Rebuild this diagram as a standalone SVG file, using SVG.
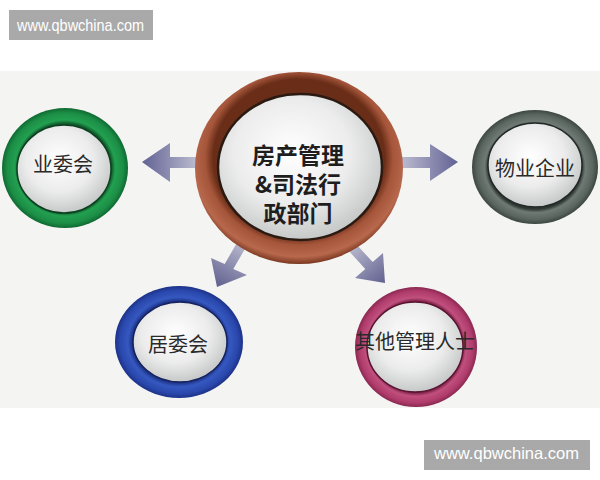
<svg xmlns="http://www.w3.org/2000/svg" width="600" height="480" viewBox="0 0 600 480">
<style>
.wm{fill:#a9a9a9}
.wmt{fill:#ffffff;font-family:"Liberation Sans",Arial,sans-serif}
.inner{fill:url(#gInner)}
.lbl{font-family:"Noto Sans CJK SC","Noto Sans",sans-serif;font-size:20px;fill:#2a2a2a;text-anchor:middle;dominant-baseline:central}
.ctr{font-family:"Noto Sans CJK SC","Noto Sans",sans-serif;font-size:23px;font-weight:bold;fill:#1e1e1e;text-anchor:middle}
</style>
<defs>
<radialGradient id="gInner" cx="0.45" cy="0.4" r="0.65">
<stop offset="0" stop-color="#ffffff"/><stop offset="0.55" stop-color="#ececec"/><stop offset="1" stop-color="#bfc2c2"/>
</radialGradient>
<radialGradient id="gBrown" cx="0.5" cy="0.45" r="0.55">
<stop offset="0.75" stop-color="#6a2e18"/><stop offset="0.82" stop-color="#a4553a"/><stop offset="0.93" stop-color="#b8684c"/><stop offset="1" stop-color="#7a3820"/>
</radialGradient>
<radialGradient id="gGreen" cx="0.5" cy="0.5" r="0.5">
<stop offset="0.74" stop-color="#0f5a2a"/><stop offset="0.8" stop-color="#22a050"/><stop offset="0.92" stop-color="#1c8e46"/><stop offset="1" stop-color="#0f6a32"/>
</radialGradient>
<radialGradient id="gGray" cx="0.5" cy="0.5" r="0.5">
<stop offset="0.74" stop-color="#2e3632"/><stop offset="0.8" stop-color="#6f7a74"/><stop offset="0.92" stop-color="#5a6560"/><stop offset="1" stop-color="#3c4642"/>
</radialGradient>
<radialGradient id="gBlue" cx="0.5" cy="0.5" r="0.5">
<stop offset="0.72" stop-color="#1a2e80"/><stop offset="0.8" stop-color="#3558c0"/><stop offset="0.92" stop-color="#2a48ad"/><stop offset="1" stop-color="#1c3288"/>
</radialGradient>
<radialGradient id="gPink" cx="0.5" cy="0.5" r="0.5">
<stop offset="0.76" stop-color="#7a1e44"/><stop offset="0.82" stop-color="#c0507e"/><stop offset="0.93" stop-color="#b03c6c"/><stop offset="1" stop-color="#8a2850"/>
</radialGradient>
<linearGradient id="aL" x1="142" y1="0" x2="200" y2="0" gradientUnits="userSpaceOnUse">
<stop offset="0" stop-color="#626294"/><stop offset="1" stop-color="#c0c0d4"/>
</linearGradient>
<linearGradient id="aR" x1="398" y1="0" x2="458" y2="0" gradientUnits="userSpaceOnUse">
<stop offset="0" stop-color="#c0c0d4"/><stop offset="1" stop-color="#626294"/>
</linearGradient>
<linearGradient id="aBL" x1="246" y1="238" x2="217" y2="287" gradientUnits="userSpaceOnUse">
<stop offset="0" stop-color="#c4c4d6"/><stop offset="1" stop-color="#60608f"/>
</linearGradient>
<linearGradient id="aBR" x1="350" y1="240" x2="385" y2="283" gradientUnits="userSpaceOnUse">
<stop offset="0" stop-color="#c4c4d6"/><stop offset="1" stop-color="#60608f"/>
</linearGradient>
</defs>

<rect x="0" y="0" width="600" height="480" fill="#ffffff"/>
<rect x="0" y="71" width="600" height="337" fill="#f4f4f3"/>

<g id="connectors">
<polygon fill="url(#aL)" points="142,162 170,143 170,157 200,157 200,168 170,168 170,182"/>
<polygon fill="url(#aR)" points="458,162 430,144 430,157 398,157 398,168 430,168 430,181"/>
<polygon fill="url(#aBL)" points="217,287 211,258 224.7,264 239.7,238 248.4,243 233.3,269 247,275"/>
<polygon fill="url(#aBR)" points="385,283 355,278 365.3,268.9 345,246.8 352.4,240 372.7,262.1 383,253"/>
</g>

<g id="center">
<ellipse cx="299" cy="168" rx="104" ry="96" fill="url(#gBrown)"/>
<ellipse cx="300" cy="167" rx="82" ry="73" class="inner" stroke="#2a1a12" stroke-width="2.5"/>
<text class="ctr" x="298" y="164"><tspan x="298">房产管理</tspan><tspan x="298" dy="29">&amp;司法行</tspan><tspan x="298" dy="29">政部门</tspan></text>
</g>

<g id="yeweihui">
<ellipse cx="65" cy="168" rx="63" ry="60" fill="url(#gGreen)"/>
<ellipse cx="64" cy="169" rx="47" ry="44" class="inner" stroke="#0d4020" stroke-width="1.5"/>
<text class="lbl" x="63" y="163">业委会</text>
</g>

<g id="wuye">
<ellipse cx="535" cy="167" rx="63" ry="57" fill="url(#gGray)"/>
<ellipse cx="535" cy="165" rx="47" ry="42" class="inner" stroke="#222826" stroke-width="1.5"/>
<text class="lbl" x="535" y="167">物业企业</text>
</g>

<g id="juweihui">
<ellipse cx="179" cy="342" rx="64" ry="56" fill="url(#gBlue)"/>
<ellipse cx="180" cy="342" rx="47" ry="40" class="inner" stroke="#14225e" stroke-width="1.5"/>
<text class="lbl" x="178" y="343">居委会</text>
</g>

<g id="qita">
<ellipse cx="416" cy="347" rx="61" ry="60" fill="url(#gPink)"/>
<ellipse cx="415" cy="347" rx="48" ry="45" class="inner" stroke="#5a1430" stroke-width="1.5"/>
<text class="lbl" x="415" y="340">其他管理人士</text>
</g>

<g id="watermark-top">
<rect class="wm" x="9" y="10" width="144" height="30"/>
<text class="wmt" x="17" y="31" font-size="17" textLength="127" lengthAdjust="spacingAndGlyphs">www.qbwchina.com</text>
</g>
<g id="watermark-bottom">
<rect class="wm" x="424" y="440" width="166" height="30"/>
<text class="wmt" x="434" y="459" font-size="16.5" textLength="145" lengthAdjust="spacingAndGlyphs">www.qbwchina.com</text>
</g>
</svg>
